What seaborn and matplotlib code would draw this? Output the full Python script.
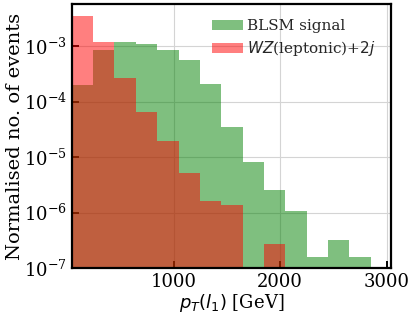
import matplotlib
matplotlib.use("Agg")
import matplotlib.pyplot as plt
import numpy as np
import pandas as pd
import seaborn as sns

# 14 equal bins of leading-lepton pT [GeV]
pt_min, pt_max, n_bins = 45, 2850, 14

# normalised densities per bin
signal_vals = [2.0e-4, 8.5e-4, 1.2e-3, 1.09e-3, 8.5e-4, 5.7e-4, 2.07e-4,
               3.5e-5, 8.1e-6, 2.6e-6, 1.07e-6, 1.56e-7, 3.2e-7, 1.56e-7]
wz_vals = [3.47e-3, 1.17e-3, 2.7e-4, 6.5e-5, 1.94e-5, 5.1e-6, 1.6e-6,
           1.35e-6, 0.0, 2.7e-7, 0.0, 0.0, 0.0, 0.0]

signal_label = "BLSM signal"
wz_label = r"$WZ$(leptonic)+$2j$"

sns.set_theme(style="whitegrid")
plt.rcParams["font.family"] = ["DejaVu Serif"]
plt.rcParams["axes.edgecolor"] = "black"
plt.rcParams["axes.linewidth"] = 1.6
plt.rcParams["grid.color"] = "#d4d4d4"
plt.rcParams["grid.linewidth"] = 0.8

edges = np.linspace(pt_min, pt_max, n_bins + 1)
centers = 0.5 * (edges[:-1] + edges[1:])
df_sig = pd.DataFrame({"pt": centers, "w": signal_vals})
df_wz = pd.DataFrame({"pt": centers, "w": wz_vals})

fig, ax = plt.subplots(figsize=(4.15, 3.15), dpi=100)
fig.subplots_adjust(left=0.173, right=0.942, top=0.987, bottom=0.149)

hist_kw = dict(x="pt", weights="w", bins=n_bins, binrange=(pt_min, pt_max),
               stat="count", alpha=0.5, linewidth=0, ax=ax)
sns.histplot(data=df_sig, color="green", label=signal_label, **hist_kw)
sns.histplot(data=df_wz, color="red", label=wz_label, **hist_kw)

ax.set_yscale("log")
ax.set_ylim(1e-7, 5.7e-3)
ax.set_xlim(45, 3040)
ax.set_xticks([1000, 2000, 3000])

ax.tick_params(axis="both", direction="in", length=5, width=1.4,
               labelsize=13, colors="black", left=True, bottom=True)
ax.tick_params(axis="y", which="minor", left=False)

ax.set_xlabel(r"$p_T(l_1)$ [GeV]", fontsize=13, color="black", labelpad=1)
ax.set_ylabel("Normalised no. of events", fontsize=14, color="black", labelpad=0)

ax.legend(loc="upper right", frameon=False, fontsize=11,
          handlelength=2.0, handletextpad=0.3, labelspacing=0.4,
          borderaxespad=0.6)

fig.savefig("out.png", dpi=100)
plt.close(fig)
